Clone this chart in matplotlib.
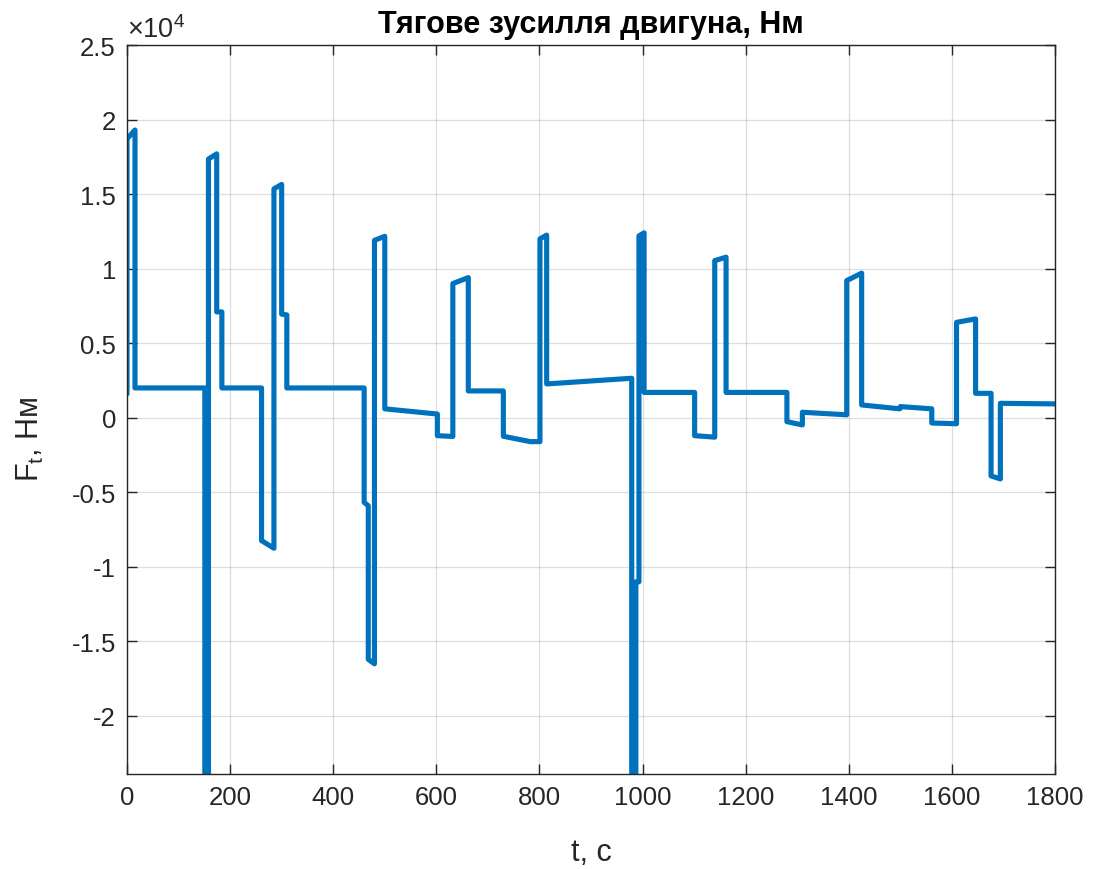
import matplotlib
matplotlib.use("Agg")
import matplotlib.pyplot as plt
from matplotlib.ticker import FuncFormatter

plt.rcParams['font.family'] = ['Liberation Sans', 'DejaVu Sans']
plt.rcParams['mathtext.default'] = 'regular'

# time (s) and traction force (N)
t = [0, 0, 15.5, 15.5, 151, 151, 158, 158, 174, 174, 184, 184,
     261, 261, 285, 285, 300, 300, 310, 310,
     460, 460, 468, 468, 480, 480, 500, 500, 602, 602, 632, 632, 662, 662,
     730, 730, 782, 801, 801, 814, 814,
     979, 979, 987, 987, 993, 993, 1003, 1003,
     1101, 1101, 1140, 1140, 1162, 1162, 1280, 1280, 1310, 1310,
     1396, 1396, 1425, 1425, 1499, 1500, 1561, 1561, 1609, 1609,
     1646, 1646, 1676, 1676, 1694, 1694, 1800]
F = [1600, 18700, 19300, 2000, 2000, -30000, -30000, 17350, 17700, 7100, 7100, 2000,
     2000, -8240, -8750, 15350, 15650, 6950, 6900, 2000,
     2000, -5670, -5900, -16200, -16500, 11900, 12170, 600, 250, -1200, -1250, 9000, 9400, 1800,
     1800, -1240, -1600, -1600, 12000, 12250, 2270,
     2650, -30000, -30000, -11000, -11000, 12200, 12400, 1700,
     1700, -1200, -1300, 10540, 10770, 1700, 1700, -260, -480, 370,
     200, 9200, 9700, 860, 600, 750, 600, -350, -400, 6400,
     6630, 1640, 1640, -3900, -4100, 970, 930]

x_ticks = [0, 200, 400, 600, 800, 1000, 1200, 1400, 1600, 1800]
y_ticks = [-20000, -15000, -10000, -5000, 0, 5000, 10000, 15000, 20000, 25000]

title = "Тягове зусилля двигуна, Нм"
xlabel = "t, c"
ylabel = "F$_t$, Нм"

fig = plt.figure(figsize=(10.96, 8.70), dpi=100)
ax = fig.add_axes([127/1096, 1 - 775/870, (1055-127)/1096, (775-46)/870])

ax.plot(t, F, color='#0072BD', lw=3.7, solid_joinstyle='round', solid_capstyle='round')

ax.set_xlim(0, 1800)
ax.set_ylim(-23890, 25000)
ax.set_xticks(x_ticks)
ax.set_yticks(y_ticks)

def yfmt(v, pos):
    return '%g' % (v / 1e4)
ax.yaxis.set_major_formatter(FuncFormatter(yfmt))

ax.grid(True, color='#262626', alpha=0.15, lw=0.9)
ax.set_axisbelow(True)
for sp in ax.spines.values():
    sp.set_color('#262626')
    sp.set_linewidth(1.0)
ax.tick_params(direction='in', length=7, width=1.0, colors='#262626',
               labelsize=18.5, top=True, right=True, pad=8)

ax.text(0.0, 1.003, r'$\times10^{4}$', transform=ax.transAxes, fontsize=19.5,
        color='#262626', ha='left', va='bottom')

ax.set_title(title, fontsize=22, fontweight='bold', color='black', pad=9)
ax.set_xlabel(xlabel, fontsize=22, color='#262626')
ax.set_ylabel(ylabel, fontsize=22, color='#262626')
ax.xaxis.set_label_coords(0.5, -0.086)
ax.yaxis.set_label_coords(-0.087, 0.46)

fig.savefig('out.png', dpi=100, facecolor='white')
